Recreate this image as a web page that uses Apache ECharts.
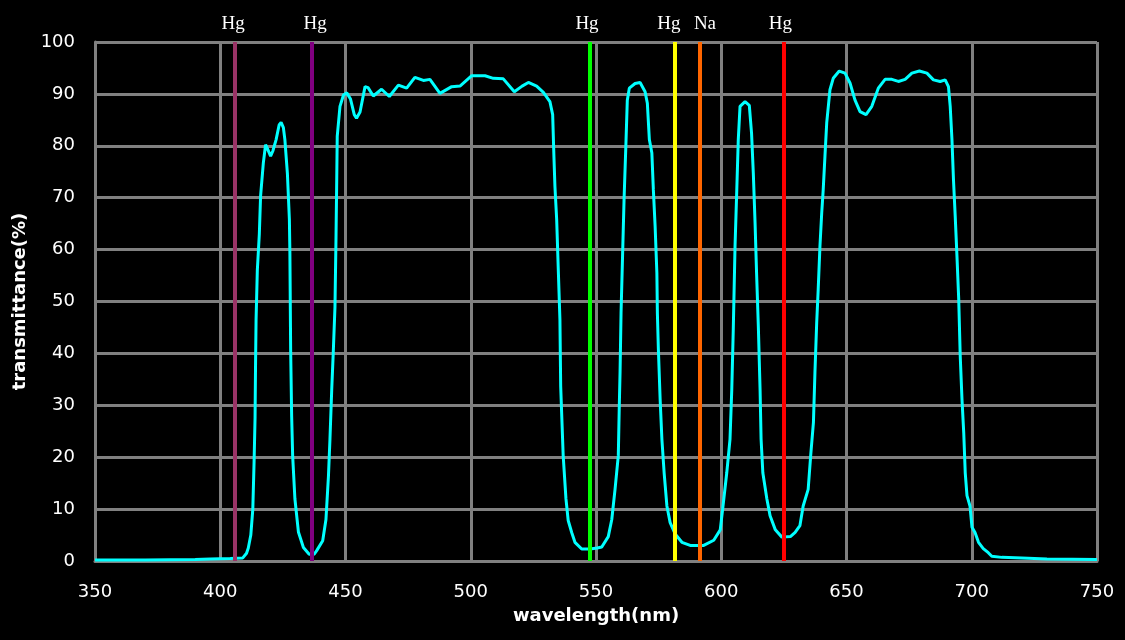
<!DOCTYPE html>
<html>
<head>
<meta charset="utf-8">
<script src="https://cdn.jsdelivr.net/npm/echarts@6/dist/echarts.min.js"></script>
<style>
html,body{margin:0;padding:0;background:#000;}
#chart{width:1125px;height:640px;}
</style>
</head>
<body>
<div id="chart"></div>
<script>
var wavelength = [350,370,390,396,404,409,410.5,411.2,412.2,413,413.5,413.9,414.1,414.3,414.8,415.6,416.1,417.2,418.1,418.8,420.1,421,422.3,423.5,424.3,425.2,425.8,426.8,427.6,427.8,428.1,428.5,428.9,429.8,431.2,433.2,435.5,437.5,438.5,440.9,442.2,443.2,443.8,444.5,445.1,445.8,446.2,446.5,446.7,447.8,449.2,450.5,452,453.5,454.4,455.8,457.8,459,461.1,464.4,467.5,471.1,474.4,477.7,481.1,483.7,487.7,492.4,495.7,500.4,505.7,509,513,517.4,520.5,523,526.3,529,531.6,532.7,533.2,533.6,534.3,534.9,535.6,535.9,536.9,538,538.9,540.3,541.6,544.3,547.6,550.5,552.3,554.9,556.3,557.6,558.9,559.3,559.6,560,560.6,561.2,562,562.5,563.3,565.6,567.6,569.6,570.5,571.3,572.3,572.9,573.6,574.3,574.5,574.9,575.6,576.3,577.2,578.3,579.6,581.6,584.3,587.6,593,597,599.6,600.7,602.2,603.5,604.2,604.8,605.5,606.2,606.8,607.5,609.5,611.2,612.1,612.8,613.5,614.1,614.8,615.5,615.9,616.6,618.2,619.5,621.6,624.2,627.6,629.5,631.4,632.7,634.7,635.7,636.8,637.4,638.1,638.7,639.4,640.1,640.7,641.4,642.1,643.4,644.7,647.1,649.4,651.4,653.4,655.4,657.8,660.1,662.7,665.4,668.1,670.7,673.4,676.1,679.1,682.1,684.7,687.4,689.4,690.7,691.4,692.1,692.7,693.4,694.1,694.8,695.4,696.1,696.8,697.4,698.1,699.3,700.1,701.3,702.7,704.6,706.6,708,712,720,730,750];
// Transmittance (%)
var transmittance = [0.2,0.2,0.3,0.4,0.5,0.6,1.5,2.5,5,10,19,27.7,38.5,46.5,56,63,70.3,76.7,80.2,79.5,78,79,81.2,84,84.5,83.5,81.2,74.7,65.8,59.4,40.8,28,20.3,12,5.6,2.6,1.3,1.3,2,3.9,8,16.4,23.5,33,40,49,62,73.5,81.8,87.6,89.8,90.2,89,86,85.3,86.5,91.4,91.2,89.6,90.9,89.5,91.7,91.1,93.2,92.6,92.8,90.1,91.4,91.5,93.5,93.5,93.0,92.9,90.4,91.5,92.2,91.5,90.3,88.5,86,78,72.2,65.8,56.8,46.5,33.7,20.3,12,7.8,5.5,3.6,2.3,2.3,2.5,2.7,4.7,8,13.8,20.3,29.9,36.3,47.8,58.7,69.6,81.2,88.8,91.1,92,92.2,90.4,88.2,81.2,78.6,71.5,64.5,55.5,47.8,40.8,31.2,23.5,17,10.6,7.4,5.2,3.6,3.0,3.0,4.0,6.0,10.6,17,23.5,33,44.6,60.6,71.5,81.2,87.6,88.5,87.8,82.4,74.7,65.1,55.5,45.3,33,23.5,17,12,8.7,6.0,4.6,4.7,5.5,6.8,10.6,13.8,20.3,26.7,36.3,45.9,52.3,60.6,67,71.5,78,84.4,90.8,93,94.4,94,92.1,88.8,86.6,86,87.6,91.1,92.8,92.8,92.4,92.8,94,94.4,94,92.7,92.4,92.7,91.4,87.6,81.2,73.5,66.4,58.7,50.4,39.5,31.2,24.7,17,12.6,10.6,6.5,5.5,3.6,2.4,1.6,0.9,0.7,0.6,0.4,0.3];

// Spectral emission lines
var lineNames = ['Hg','Hg','Hg','Hg','Na','Hg'];
var lineWavelengths = [405.9,436.7,547.6,581.5,591.5,624.8];
var lineColors = ['#993366','#800080','#00ff00','#ffff00','#ff6600','#ff0000'];
var lineLabelShift = [-2,3,-3,-6,5,-3];

var xTicks = {min:350, max:750, interval:50};
var yTicks = {min:0, max:100, interval:10};

var curve = wavelength.map(function(w,i){return [w, transmittance[i]];});

var markData = lineWavelengths.map(function(w,i){
  return {
    xAxis: w,
    lineStyle: {color: lineColors[i], width: 4, type: 'solid'},
    label: {show: true, formatter: lineNames[i], position: 'end', distance: 8,
            color: '#fff', fontFamily: 'Liberation Serif', fontSize: 19,
            offset: [lineLabelShift[i], 0]}
  };
});

var chart = echarts.init(document.getElementById('chart'));
chart.setOption({
  backgroundColor: '#000',
  animation: false,
  grid: {left: 95, right: 28, top: 42, bottom: 79},
  xAxis: {
    type: 'value', min: xTicks.min, max: xTicks.max, interval: xTicks.interval,
    name: 'wavelength(nm)', nameLocation: 'middle', nameGap: 46,
    nameTextStyle: {color: '#fff', fontFamily: 'DejaVu Sans', fontWeight: 'bold', fontSize: 18},
    axisLine: {show: true, lineStyle: {color: '#808080', width: 3}},
    axisTick: {show: false},
    axisLabel: {color: '#fff', fontFamily: 'DejaVu Sans', fontSize: 18, margin: 22},
    splitLine: {show: true, lineStyle: {color: '#808080', width: 3}}
  },
  yAxis: {
    type: 'value', min: yTicks.min, max: yTicks.max, interval: yTicks.interval,
    name: 'transmittance(%)', nameLocation: 'middle', nameGap: 64,
    nameTextStyle: {color: '#fff', fontFamily: 'DejaVu Sans', fontWeight: 'bold', fontSize: 18},
    axisLine: {show: true, lineStyle: {color: '#808080', width: 3}},
    axisTick: {show: false},
    axisLabel: {color: '#fff', fontFamily: 'DejaVu Sans', fontSize: 18, margin: 20},
    splitLine: {show: true, lineStyle: {color: '#808080', width: 3}}
  },
  series: [
    {
      type: 'line', data: curve, showSymbol: false, symbol: 'none', z: 2,
      lineStyle: {color: '#00ffff', width: 3}, emphasis: {disabled: true}
    },
    {
      type: 'line', data: [], z: 3, silent: true,
      markLine: {silent: true, symbol: ['none','none'], animation: false, data: markData}
    }
  ]
});
</script>
</body>
</html>
